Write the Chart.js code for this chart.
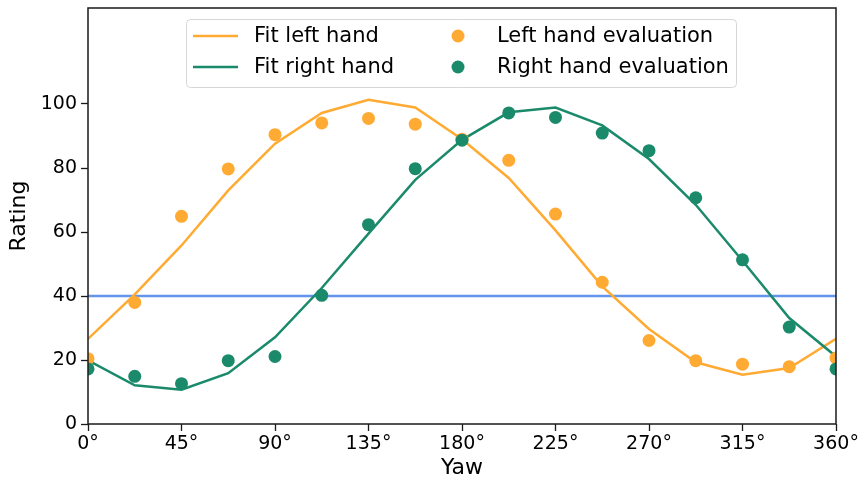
<!DOCTYPE html>
<html>
<head>
<meta charset="utf-8">
<script src="https://cdn.jsdelivr.net/npm/chart.js@4.4.1/dist/chart.umd.min.js"></script>
<style>
    html, body { margin: 0; padding: 0; background: #fff; }
    #grafico { display: block; }
</style>
</head>
<body>
<canvas id="grafico" width="859" height="483"></canvas>
<script>
// Ângulos de yaw (graus)
const angulos = [0, 22.5, 45, 67.5, 90, 112.5, 135, 157.5, 180, 202.5, 225, 247.5, 270, 292.5, 315, 337.5, 360];

// Curvas ajustadas
const fitEsquerda = [26.6, 40.5, 55.8, 73.0, 87.6, 97.2, 101.3, 98.9, 89.0, 76.9, 60.5, 43.0, 29.7, 19.3, 15.4, 17.5, 26.6];
const fitDireita = [19.9, 12.1, 10.7, 15.9, 27.1, 42.5, 59.5, 76.3, 88.8, 97.4, 98.9, 93.3, 82.8, 68.5, 51.0, 33.1, 21.1];

// Avaliações medidas
const avalEsquerda = [20.4, 38.0, 64.9, 79.7, 90.4, 94.1, 95.5, 93.7, 89.0, 82.4, 65.6, 44.3, 26.1, 19.8, 18.7, 17.9, 20.6];
const avalDireita = [17.2, 14.9, 12.6, 19.8, 21.1, 40.2, 62.3, 79.8, 88.7, 97.2, 95.8, 90.9, 85.4, 70.7, 51.3, 30.3, 17.2];

// Linha de referência
const limiteX = [0, 360];
const limiteY = [40, 40];

// Ticks
const ticksX = [0, 45, 90, 135, 180, 225, 270, 315, 360];
const ticksY = [0, 20, 40, 60, 80, 100];

const corLaranja = '#ffaa33';
const corVerde = '#1b8a6b';
const corAzul = '#6495ed';

function pares(xs, ys) {
    return xs.map((x, i) => ({ x: x, y: ys[i] }));
}

// Plugin para moldura e legenda dentro da área do gráfico
const molduraLegenda = {
    id: 'molduraLegenda',
    afterDraw(chart) {
        const ctx = chart.ctx;
        const a = chart.chartArea;
        ctx.save();
        ctx.strokeStyle = '#1a1a1a';
        ctx.lineWidth = 1.5;
        ctx.strokeRect(a.left, a.top, a.right - a.left, a.bottom - a.top);

        // Caixa da legenda
        const bx = 186.5, by = 19.5, bw = 550, bh = 68, r = 4;
        ctx.beginPath();
        ctx.moveTo(bx + r, by);
        ctx.arcTo(bx + bw, by, bx + bw, by + bh, r);
        ctx.arcTo(bx + bw, by + bh, bx, by + bh, r);
        ctx.arcTo(bx, by + bh, bx, by, r);
        ctx.arcTo(bx, by, bx + bw, by, r);
        ctx.closePath();
        ctx.fillStyle = 'rgba(255,255,255,0.8)';
        ctx.fill();
        ctx.strokeStyle = '#d6d6d6';
        ctx.lineWidth = 1;
        ctx.stroke();

        const itens = [
            { tipo: 'linha', cor: corLaranja, texto: 'Fit left hand', col: 0, lin: 0 },
            { tipo: 'linha', cor: corVerde, texto: 'Fit right hand', col: 0, lin: 1 },
            { tipo: 'ponto', cor: corLaranja, texto: 'Left hand evaluation', col: 1, lin: 0 },
            { tipo: 'ponto', cor: corVerde, texto: 'Right hand evaluation', col: 1, lin: 1 }
        ];
        const linhasY = [36, 67];
        ctx.font = '21px "DejaVu Sans"';
        ctx.textBaseline = 'middle';
        itens.forEach((it) => {
            const y = linhasY[it.lin];
            if (it.tipo === 'linha') {
                ctx.beginPath();
                ctx.moveTo(193, y);
                ctx.lineTo(238, y);
                ctx.strokeStyle = it.cor;
                ctx.lineWidth = 2.5;
                ctx.stroke();
                ctx.fillStyle = '#000';
                ctx.fillText(it.texto, 254, y + 1);
            } else {
                ctx.beginPath();
                ctx.arc(458, y, 6.5, 0, Math.PI * 2);
                ctx.fillStyle = it.cor;
                ctx.fill();
                ctx.fillStyle = '#000';
                ctx.fillText(it.texto, 497, y + 1);
            }
        });
        ctx.restore();
    }
};

const ctx = document.getElementById('grafico').getContext('2d');
new Chart(ctx, {
    data: {
        datasets: [
            {
                type: 'line',
                data: pares(limiteX, limiteY),
                borderColor: corAzul,
                borderWidth: 2.5,
                pointRadius: 0,
                clip: 0,
                order: 5
            },
            {
                type: 'line',
                label: 'Fit left hand',
                data: pares(angulos, fitEsquerda),
                borderColor: corLaranja,
                borderWidth: 2.5,
                pointRadius: 0,
                tension: 0,
                clip: 0,
                order: 4
            },
            {
                type: 'line',
                label: 'Fit right hand',
                data: pares(angulos, fitDireita),
                borderColor: corVerde,
                borderWidth: 2.5,
                pointRadius: 0,
                tension: 0,
                clip: 0,
                order: 3
            },
            {
                type: 'scatter',
                label: 'Left hand evaluation',
                data: pares(angulos, avalEsquerda),
                backgroundColor: corLaranja,
                borderWidth: 0,
                pointRadius: 6.5,
                clip: 0,
                order: 2
            },
            {
                type: 'scatter',
                label: 'Right hand evaluation',
                data: pares(angulos, avalDireita),
                backgroundColor: corVerde,
                borderWidth: 0,
                pointRadius: 6.5,
                clip: 0,
                order: 1
            }
        ]
    },
    options: {
        responsive: false,
        animation: false,
        devicePixelRatio: 1,
        layout: { padding: { top: 8, right: 23, left: 0, bottom: 0 } },
        plugins: {
            legend: { display: false },
            tooltip: { enabled: false }
        },
        scales: {
            x: {
                type: 'linear',
                min: 0,
                max: 360,
                afterBuildTicks: (eixo) => { eixo.ticks = ticksX.map(v => ({ value: v })); },
                afterFit: (eixo) => { eixo.height = 59; eixo.paddingLeft = 0; eixo.paddingRight = 0; },
                ticks: {
                    callback: (v) => v + '°',
                    color: '#000',
                    font: { family: 'DejaVu Sans', size: 19 },
                    padding: 2,
                    maxRotation: 0
                },
                grid: { drawOnChartArea: false, drawTicks: true, tickLength: 7, tickColor: '#1a1a1a', tickWidth: 1.3 },
                border: { display: false },
                title: {
                    display: true,
                    text: 'Yaw',
                    color: '#000',
                    font: { family: 'DejaVu Sans', size: 22 },
                    padding: { top: 0, bottom: 2 }
                }
            },
            y: {
                type: 'linear',
                min: 0,
                max: 130,
                afterBuildTicks: (eixo) => { eixo.ticks = ticksY.map(v => ({ value: v })); },
                afterFit: (eixo) => { eixo.width = 88; eixo.paddingTop = 0; eixo.paddingBottom = 0; },
                ticks: {
                    color: '#000',
                    font: { family: 'DejaVu Sans', size: 19 },
                    padding: 4
                },
                grid: { drawOnChartArea: false, drawTicks: true, tickLength: 7, tickColor: '#1a1a1a', tickWidth: 1.3 },
                border: { display: false },
                title: {
                    display: true,
                    text: 'Rating',
                    color: '#000',
                    font: { family: 'DejaVu Sans', size: 22 },
                    padding: { top: 6, bottom: 0 }
                }
            }
        }
    },
    plugins: [molduraLegenda]
});
</script>
</body>
</html>
